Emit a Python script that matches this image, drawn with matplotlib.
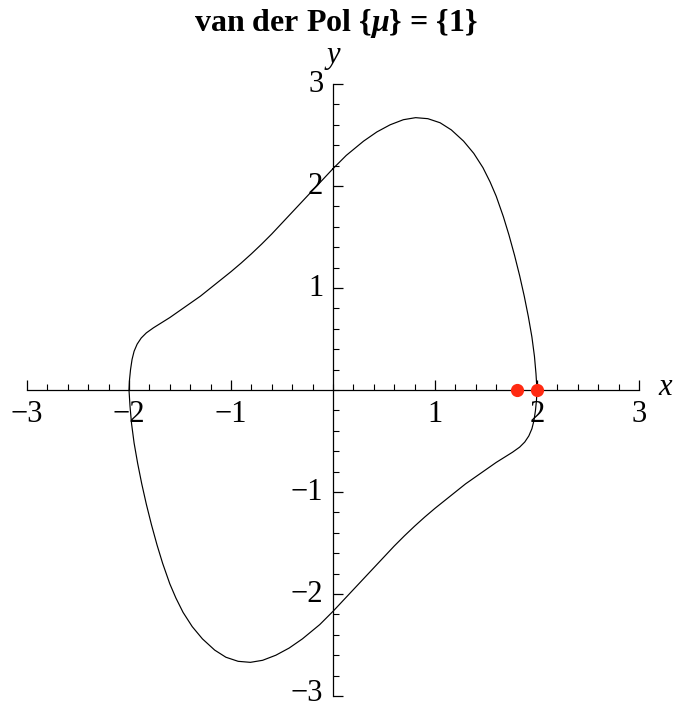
import matplotlib
matplotlib.use("Agg")
import matplotlib.pyplot as plt
import matplotlib.transforms as mtransforms
from matplotlib.ticker import MultipleLocator, FixedLocator, FixedFormatter

plt.rcParams['font.family'] = ['Liberation Serif', 'DejaVu Serif']
plt.rcParams['mathtext.fontset'] = 'custom'
plt.rcParams['mathtext.rm'] = 'Liberation Serif:bold'
plt.rcParams['mathtext.it'] = 'Liberation Serif:italic:bold'
plt.rcParams['mathtext.bf'] = 'Liberation Serif:bold'

# limit cycle points (clockwise, starting at the top crossing of the y axis)
cycle_x = [0.00, 0.13, 0.30, 0.43, 0.56, 0.69, 0.81, 0.93, 1.05, 1.16, 1.28, 1.38, 1.47,
           1.54, 1.60, 1.67, 1.725, 1.78, 1.83, 1.875, 1.915, 1.95, 1.975, 1.99, 2.00,
           1.995, 1.985, 1.97, 1.95, 1.92, 1.88, 1.83, 1.76, 1.68, 1.60, 1.50, 1.40, 1.30,
           1.20, 1.10, 1.00, 0.90, 0.80, 0.70, 0.60, 0.45, 0.30, 0.15, 0.00,
           -0.13, -0.30, -0.43, -0.56, -0.69, -0.81, -0.93, -1.05, -1.16, -1.28, -1.38,
           -1.47, -1.54, -1.60, -1.67, -1.725, -1.78, -1.83, -1.875, -1.915, -1.95,
           -1.975, -1.99, -2.00,
           -1.995, -1.985, -1.97, -1.95, -1.92, -1.88, -1.83, -1.76, -1.68, -1.60, -1.50,
           -1.40, -1.30, -1.20, -1.10, -1.00, -0.90, -0.80, -0.70, -0.60, -0.45, -0.30,
           -0.15, 0.00]
cycle_y = [2.17, 2.30, 2.44, 2.53, 2.60, 2.65, 2.67, 2.66, 2.62, 2.55, 2.44, 2.32, 2.18,
           2.04, 1.90, 1.70, 1.52, 1.32, 1.12, 0.92, 0.72, 0.52, 0.33, 0.16, 0.00,
           -0.10, -0.20, -0.30, -0.38, -0.45, -0.51, -0.56, -0.61, -0.66, -0.71, -0.78,
           -0.85, -0.92, -1.00, -1.08, -1.16, -1.245, -1.335, -1.43, -1.53, -1.69, -1.85,
           -2.01, -2.17,
           -2.30, -2.44, -2.53, -2.60, -2.65, -2.67, -2.66, -2.62, -2.55, -2.44, -2.32,
           -2.18, -2.04, -1.90, -1.70, -1.52, -1.32, -1.12, -0.92, -0.72, -0.52, -0.33,
           -0.16, 0.00,
           0.10, 0.20, 0.30, 0.38, 0.45, 0.51, 0.56, 0.61, 0.66, 0.71, 0.78, 0.85, 0.92,
           1.00, 1.08, 1.16, 1.245, 1.335, 1.43, 1.53, 1.69, 1.85, 2.01, 2.17]

start_x = [1.8, 2.0]
start_y = [0.0, 0.0]

ticks = [-3, -2, -1, 1, 2, 3]
tick_labels = ["\u22123", "\u22122", "\u22121", "1", "2", "3"]

fig = plt.figure(figsize=(6.75, 7.08), dpi=100)
ax = fig.add_axes([27/675, 12/708, 612/675, 612/708])
ax.set_xlim(-3, 3)
ax.set_ylim(-3, 3)

ax.plot(cycle_x, cycle_y, color='black', lw=0.85, solid_joinstyle='round')
ax.plot(start_x, start_y, 'o', color='#ff2a12', ms=9.5, mec='none', clip_on=False, zorder=5)

for s in ['top', 'right']:
    ax.spines[s].set_visible(False)
ax.spines['left'].set_position(('data', 0))
ax.spines['bottom'].set_position(('data', 0))
for s in ['left', 'bottom']:
    ax.spines[s].set_linewidth(0.9)

ax.xaxis.set_major_locator(FixedLocator(ticks))
ax.yaxis.set_major_locator(FixedLocator(ticks))
ax.xaxis.set_major_formatter(FixedFormatter(tick_labels))
ax.yaxis.set_major_formatter(FixedFormatter(tick_labels))
ax.xaxis.set_minor_locator(MultipleLocator(0.2))
ax.yaxis.set_minor_locator(MultipleLocator(0.2))
ax.tick_params(which='major', direction='in', length=7, width=0.9, labelsize=22, pad=7)
ax.tick_params(which='minor', direction='in', length=4, width=0.8)

# nudge y tick labels up slightly (the lowest one a little more so it stays inside)
fig.canvas.draw()
for lab in ax.get_yticklabels():
    dy = 6 if lab.get_text() == "\u22123" else 3
    off = mtransforms.ScaledTranslation(0, dy/100, fig.dpi_scale_trans)
    lab.set_transform(lab.get_transform() + off)

ax.text(3.26, 0.02, 'x', fontsize=22, style='italic', ha='center', va='center')
ax.text(0.0, 3.28, 'y', fontsize=22, style='italic', ha='center', va='center')

fig.text(0.497, 1 - 23/708, r'van der Pol {$\mu$} = {1}', fontsize=23, fontweight='bold',
         ha='center', va='center')

fig.savefig('out.png', dpi=100)
